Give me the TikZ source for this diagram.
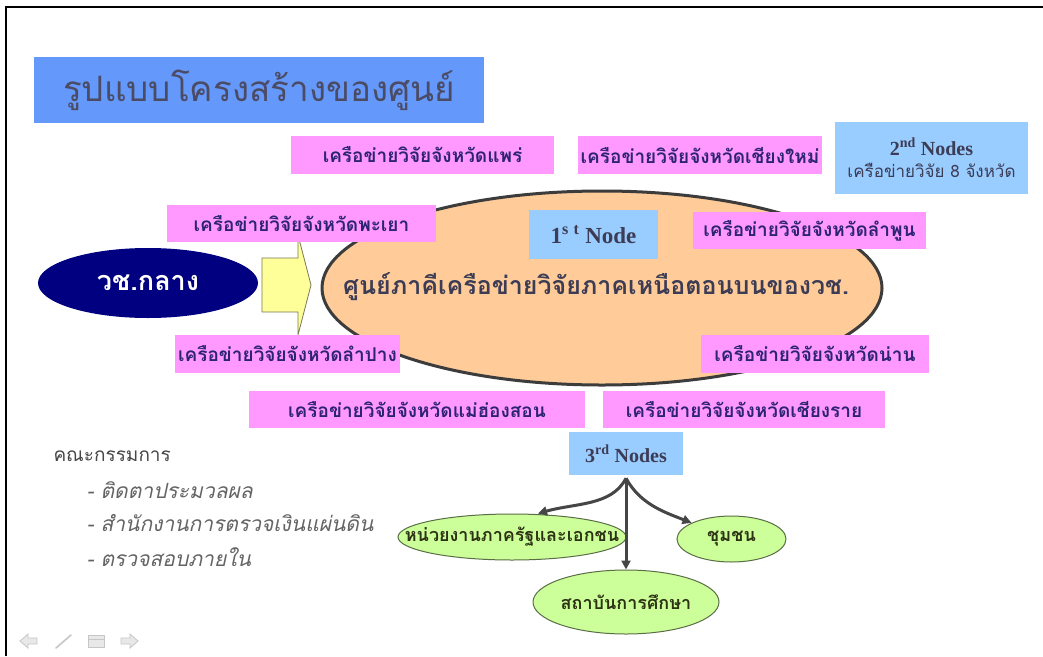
\documentclass[tikz,border=0pt]{standalone}
\usepackage{fontspec}
\setmainfont{Liberation Serif}
\newfontfamily\thai[Script=Thai]{Loma}
\usetikzlibrary{arrows.meta,shapes.geometric}
\definecolor{titleblue}{RGB}{100,152,250}
\definecolor{pinkbox}{RGB}{255,153,255}
\definecolor{lightblue}{RGB}{153,204,255}
\definecolor{peach}{RGB}{255,204,153}
\definecolor{navyell}{RGB}{0,0,128}
\definecolor{yellowarr}{RGB}{255,255,153}
\definecolor{greenell}{RGB}{204,255,153}
\definecolor{greenline}{RGB}{90,110,70}
\definecolor{purpletext}{RGB}{45,35,115}
\definecolor{slatetext}{RGB}{60,60,85}
\definecolor{conncol}{RGB}{70,70,70}
\tikzset{
  pinkb/.style={rectangle, fill=pinkbox, inner sep=0pt, text=purpletext,
    font=\thai\bfseries\fontsize{19}{19}\selectfont},
  blueb/.style={rectangle, fill=lightblue, inner sep=0pt, text=slatetext},
  greene/.style={ellipse, fill=greenell, draw=greenline, line width=1pt, inner sep=0pt,
    text={rgb,255:red,45;green,50;blue,20}, font=\thai\bfseries\fontsize{18}{18}\selectfont},
  conn/.style={draw=conncol, line width=3pt, -{Triangle[length=9pt,width=9pt]}},
  listitem/.style={anchor=west, text={rgb,255:red,100;green,100;blue,100},
    font=\thai\itshape\fontsize{21}{21}\selectfont},
  navicon/.style={fill=gray!18, draw=gray!45, line width=0.8pt}
}
\begin{document}
\begin{tikzpicture}[x=1pt,y=-1pt]
\useasboundingbox (0,0) rectangle (1043,656);
\fill[white] (0,0) rectangle (1043,656);
\draw[line width=2.5pt] (6,656) -- (6,7) -- (1043,7);

% title
\node[rectangle, fill=titleblue, inner sep=0pt, minimum width=450pt, minimum height=66pt,
  text={rgb,255:red,75;green,75;blue,100}, font=\thai\fontsize{35}{35}\selectfont]
  (title) at (259,90) {รูปแบบโครงสร้างของศูนย์};

% yellow block arrow
\draw[fill=yellowarr, draw={rgb,255:red,120;green,120;blue,90}, line width=0.8pt]
  (262,258) -- (298,258) -- (298,235) -- (311,285) -- (298,335) -- (298,312) -- (262,312) -- cycle;

% central ellipse
\node[ellipse, fill=peach, draw={rgb,255:red,60;green,60;blue,60}, line width=3pt,
  minimum width=560pt, minimum height=194pt, inner sep=0pt]
  (center) at (602,288) {};
\node[text=slatetext, font=\thai\bfseries\fontsize{25}{25}\selectfont, inner sep=0pt]
  (centertext) at (596,287) {ศูนย์ภาคีเครือข่ายวิจัยภาคเหนือตอนบนของวช.};

% left dark ellipse
\node[ellipse, fill=navyell, minimum width=220pt, minimum height=70pt, inner sep=0pt,
  text=white, font=\thai\bfseries\fontsize{27}{27}\selectfont]
  (vch) at (148,283) {วช.กลาง};

% pink boxes
\node[pinkb, minimum width=263pt, minimum height=38pt] (phrae) at (422.5,155) {เครือข่ายวิจัยจังหวัดแพร่};
\node[pinkb, minimum width=244pt, minimum height=38pt] (cm) at (700,155) {เครือข่ายวิจัยจังหวัดเชียงใหม่};
\node[pinkb, minimum width=269pt, minimum height=37pt] (phayao) at (301.5,223.5) {เครือข่ายวิจัยจังหวัดพะเยา};
\node[pinkb, minimum width=233pt, minimum height=37pt] (lamphun) at (809.5,230.5) {เครือข่ายวิจัยจังหวัดลำพูน};
\node[pinkb, minimum width=225pt, minimum height=38pt] (lampang) at (287.5,354) {เครือข่ายวิจัยจังหวัดลำปาง};
\node[pinkb, minimum width=228pt, minimum height=38pt] (nan) at (815,354) {เครือข่ายวิจัยจังหวัดน่าน};
\node[pinkb, minimum width=336pt, minimum height=37pt] (mhs) at (417,409.5) {เครือข่ายวิจัยจังหวัดแม่ฮ่องสอน};
\node[pinkb, minimum width=282pt, minimum height=37pt] (cr) at (744,409.5) {เครือข่ายวิจัยจังหวัดเชียงราย};

% blue node boxes
\node[blueb, minimum width=129pt, minimum height=49pt, font=\bfseries\fontsize{23}{23}\selectfont]
  (n1) at (593.5,234.5) {1\textsuperscript{s\,\,t} Node};
\node[blueb, minimum width=193pt, minimum height=72pt, align=center]
  (n2) at (931.5,158) {{\bfseries\fontsize{20}{20}\selectfont 2\textsuperscript{nd} Nodes}\\[7pt]
  {\thai\fontsize{17}{17}\selectfont เครือข่ายวิจัย 8 จังหวัด}};
\node[blueb, minimum width=114pt, minimum height=43pt, font=\bfseries\fontsize{20}{20}\selectfont]
  (n3) at (626,453.5) {3\textsuperscript{rd} Nodes};

% green ellipses
\node[greene, minimum width=228pt, minimum height=46pt] (gov) at (512,537) {};
\node[text={rgb,255:red,45;green,50;blue,20}, font=\thai\bfseries\fontsize{18}{18}\selectfont, inner sep=0pt]
  (govtext) at (gov) {หน่วยงานภาครัฐและเอกชน};
\node[greene, minimum width=109pt, minimum height=46pt] (com) at (731.5,539) {ชุมชน};
\node[greene, minimum width=186pt, minimum height=64pt] (edu) at (626,602) {สถาบันการศึกษา};

% connectors
\coordinate (fork) at ([yshift=-3pt]n3.south);
\draw[conn] (fork) .. controls (612,506) and (575,503) .. ([xshift=26pt]gov.north);
\draw[conn] (fork) -- (edu.north);
\draw[conn] (fork) .. controls (640,504) and (664,512) .. (com.158);

% committee list
\node[anchor=west, text={rgb,255:red,70;green,70;blue,70}, font=\thai\fontsize{19}{19}\selectfont]
  (comm) at (50,456) {คณะกรรมการ};
\node[listitem] (li1) at (83,490) {- ติดตาประมวลผล};
\node[listitem] (li2) at (83,523) {- สำนักงานการตรวจเงินแผ่นดิน};
\node[listitem] (li3) at (83,557) {- ตรวจสอบภายใน};

% navigation icons
\draw[navicon] (20,641) -- (28,634) -- (28,638) -- (37,638) -- (37,644) -- (28,644) -- (28,648) -- cycle;
\draw[gray!45, line width=1.6pt, line cap=round] (56,648) -- (71,635);
\draw[navicon] (88,635) rectangle (104,647);
\draw[gray!45, line width=0.8pt] (88,639) -- (104,639);
\draw[navicon] (138,641) -- (130,634) -- (130,638) -- (121,638) -- (121,644) -- (130,644) -- (130,648) -- cycle;
\end{tikzpicture}
\end{document}
